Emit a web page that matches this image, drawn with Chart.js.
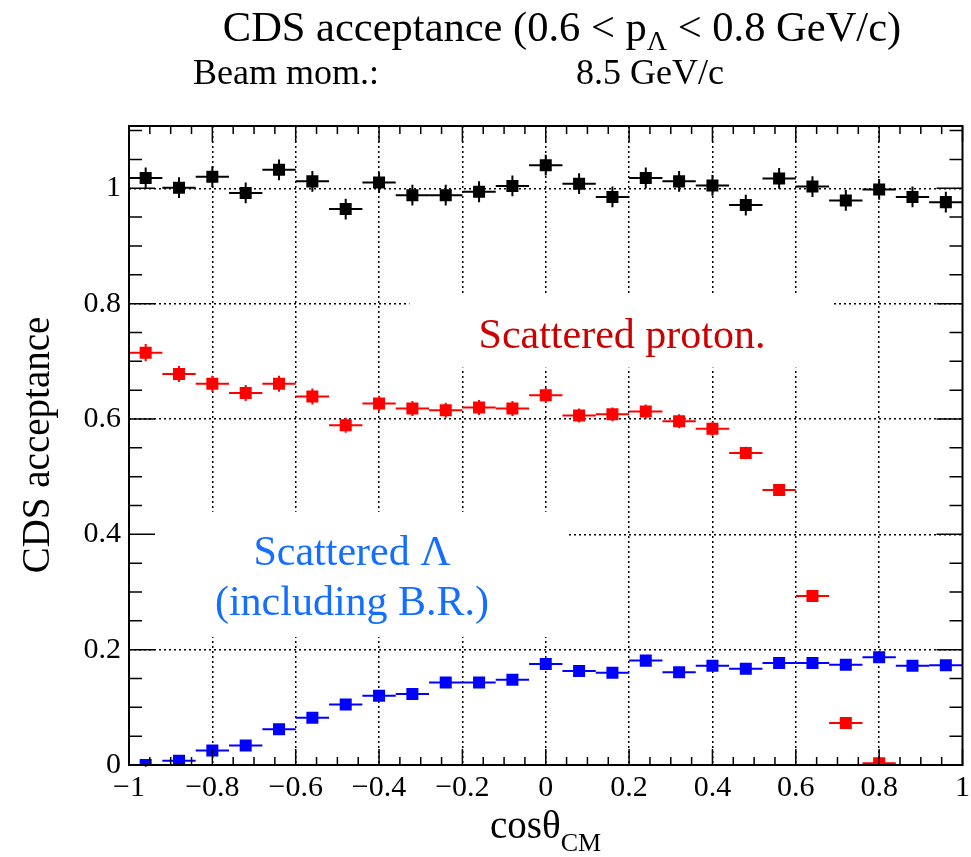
<!DOCTYPE html>
<html>
<head>
<meta charset="utf-8">
<script src="https://cdn.jsdelivr.net/npm/chart.js@4/dist/chart.umd.min.js"></script>
<style>
  body { margin: 0; background: #fff; }
  canvas { display: block; }
</style>
</head>
<body>
<canvas id="acc" width="971" height="857"></canvas>
<script>
// cos(theta_CM) bin centres, bin width 0.08
const cosTheta = [-0.96, -0.88, -0.80, -0.72, -0.64, -0.56, -0.48, -0.40, -0.32, -0.24, -0.16, -0.08,
    0.00, 0.08, 0.16, 0.24, 0.32, 0.40, 0.48, 0.56, 0.64, 0.72, 0.80, 0.88, 0.96]
const halfBin = 0.04

// black: all events
const totalAcc = [1.018, 1.001, 1.020, 0.992, 1.032, 1.012, 0.964, 1.010, 0.988, 0.988, 0.994, 1.004,
    1.040, 1.008, 0.985, 1.018, 1.012, 1.005, 0.971, 1.017, 1.003, 0.979, 0.998, 0.985, 0.976]
const totalErr = [0.018, 0.018, 0.018, 0.018, 0.018, 0.018, 0.018, 0.018, 0.018, 0.018, 0.018, 0.018,
    0.018, 0.018, 0.018, 0.018, 0.018, 0.018, 0.018, 0.018, 0.018, 0.018, 0.018, 0.018, 0.018]

// red: scattered proton
const protonAcc = [0.715, 0.678, 0.661, 0.645, 0.661, 0.639, 0.589, 0.627, 0.618, 0.615, 0.620, 0.618,
    0.641, 0.606, 0.608, 0.613, 0.596, 0.583, 0.541, 0.477, 0.293, 0.073, 0.003, null, null]
const protonErr = [0.015, 0.014, 0.014, 0.014, 0.014, 0.014, 0.013, 0.013, 0.013, 0.013, 0.013, 0.013,
    0.013, 0.012, 0.012, 0.012, 0.012, 0.012, 0.011, 0.009, 0.004, 0.003, 0.002, null, null]

// blue: scattered Lambda (including B.R.)
const lambdaAcc = [0.000, 0.0075, 0.025, 0.034, 0.062, 0.082, 0.105, 0.120, 0.123, 0.143, 0.143, 0.148,
    0.175, 0.163, 0.160, 0.181, 0.161, 0.172, 0.167, 0.177, 0.177, 0.174, 0.187, 0.172, 0.173]
const lambdaErr = [0.003, 0.003, 0.004, 0.004, 0.004, 0.004, 0.004, 0.004, 0.004, 0.004, 0.004, 0.004,
    0.004, 0.004, 0.004, 0.004, 0.004, 0.004, 0.004, 0.004, 0.004, 0.004, 0.004, 0.004, 0.004]

const xTicks = [-1, -0.8, -0.6, -0.4, -0.2, 0, 0.2, 0.4, 0.6, 0.8, 1]
const yTicks = [0, 0.2, 0.4, 0.6, 0.8, 1]

const serif = '"Liberation Serif", "DejaVu Serif", serif'

let toPoints = function(vals, errs){
    let pts = []
    vals.forEach((v, i) => {
        if (v !== null) pts.push({ x: cosTheta[i], y: v, err: errs[i] })
    })
    return pts
}

let makeSet = function(label, vals, errs, color){
    return {
        label: label,
        data: toPoints(vals, errs),
        showLine: false,
        pointStyle: 'rect',
        pointRadius: 8.5,
        pointHoverRadius: 8.5,
        backgroundColor: color,
        borderColor: color,
        borderWidth: 0
    }
}

// white boxes behind the text labels (ROOT pave fill hides the grid)
const boxes = [
    { x0: -0.327, x1: 0.686, y0: 0.689, y1: 0.814 },
    { x0: -1, x1: 0.049, y0: 0.222, y1: 0.439 }
]

const rootPlugin = {
    id: 'rootStyle',
    beforeDatasetsDraw(chart){
        const ctx = chart.ctx
        const xs = chart.scales.x, ys = chart.scales.y
        ctx.save()
        ctx.fillStyle = '#fff'
        boxes.forEach(b => {
            let l = xs.getPixelForValue(b.x0), r = xs.getPixelForValue(b.x1)
            let t = ys.getPixelForValue(b.y1), bt = ys.getPixelForValue(b.y0)
            ctx.fillRect(l, t, r - l, bt - t)
        })

        // error bars
        ctx.lineWidth = 2
        chart.data.datasets.forEach(ds => {
            ctx.strokeStyle = ds.borderColor
            ds.data.forEach(p => {
                let px = xs.getPixelForValue(p.x)
                let py = ys.getPixelForValue(p.y)
                ctx.beginPath()
                ctx.moveTo(xs.getPixelForValue(p.x - halfBin), py)
                ctx.lineTo(xs.getPixelForValue(p.x + halfBin), py)
                ctx.moveTo(px, ys.getPixelForValue(p.y - p.err))
                ctx.lineTo(px, ys.getPixelForValue(p.y + p.err))
                ctx.stroke()
            })
        })

        // labels inside the frame
        ctx.textAlign = 'center'
        ctx.textBaseline = 'alphabetic'
        ctx.font = '42px ' + serif
        ctx.fillStyle = '#cc0000'
        ctx.fillText('Scattered proton.', 622, 348)
        ctx.fillStyle = 'rgb(20,110,255)'
        ctx.fillText('Scattered \u039B', 352, 565)
        ctx.fillText('(including B.R.)', 352, 615)
        ctx.restore()
    },
    afterDraw(chart){
        const ctx = chart.ctx
        const a = chart.chartArea
        const xs = chart.scales.x, ys = chart.scales.y
        ctx.save()
        ctx.strokeStyle = '#000'
        ctx.lineWidth = 1.5

        // inward ticks on all four sides, minor every 0.05
        ctx.beginPath()
        for (let i = 0; i <= 40; i++) {
            let v = -1 + i * 0.05
            let px = xs.getPixelForValue(v)
            let len = (i % 4 === 0) ? 16 : 8
            ctx.moveTo(px, a.bottom); ctx.lineTo(px, a.bottom - len)
            ctx.moveTo(px, a.top); ctx.lineTo(px, a.top + len)
        }
        for (let i = 0; i <= 22; i++) {
            let v = i * 0.05
            let py = ys.getPixelForValue(v)
            let len = (i % 4 === 0) ? 26 : 13
            ctx.moveTo(a.left, py); ctx.lineTo(a.left + len, py)
            ctx.moveTo(a.right, py); ctx.lineTo(a.right - len, py)
        }
        ctx.stroke()

        ctx.lineWidth = 2
        ctx.strokeRect(a.left, a.top, a.right - a.left, a.bottom - a.top)

        // title
        ctx.fillStyle = '#000'
        ctx.textBaseline = 'alphabetic'
        ctx.textAlign = 'left'
        let big = '42.5px ' + serif, small = '28px ' + serif
        let t1 = 'CDS acceptance (0.6 < p', t2 = '\u039B', t3 = ' < 0.8 GeV/c)'
        ctx.font = big
        let w1 = ctx.measureText(t1).width, w3 = ctx.measureText(t3).width
        ctx.font = small
        let w2 = ctx.measureText(t2).width
        let x = 562 - (w1 + w2 + w3) / 2
        ctx.font = big
        ctx.fillText(t1, x, 41)
        ctx.font = small
        ctx.fillText(t2, x + w1, 50)
        ctx.font = big
        ctx.fillText(t3, x + w1 + w2, 41)

        ctx.font = '36px ' + serif
        ctx.fillText('Beam mom.:', 193, 84)
        ctx.fillText('8.5 GeV/c', 576, 84)

        // x axis title
        ctx.font = '39px ' + serif
        ctx.fillText('cos\u03B8', 490, 838)
        let wc = ctx.measureText('cos\u03B8').width
        ctx.font = '26px ' + serif
        ctx.fillText('CM', 490 + wc, 851)

        // y axis title
        ctx.translate(49, 445)
        ctx.rotate(-Math.PI / 2)
        ctx.textAlign = 'center'
        ctx.font = '39px ' + serif
        ctx.fillText('CDS acceptance', 0, 0)
        ctx.restore()
    }
}

let fmt = v => {
    let s = String(Math.round(v * 10) / 10)
    return s.replace('-', '\u2212')
}

new Chart(document.getElementById('acc'), {
    type: 'scatter',
    data: {
        datasets: [
            makeSet('All', totalAcc, totalErr, '#000000'),
            makeSet('Scattered proton', protonAcc, protonErr, '#ff0000'),
            makeSet('Scattered Lambda', lambdaAcc, lambdaErr, '#0000ff')
        ]
    },
    options: {
        responsive: false,
        animation: false,
        layout: { padding: { top: 126, right: 6, left: 0, bottom: 0 } },
        plugins: {
            legend: { display: false },
            tooltip: { enabled: false }
        },
        scales: {
            x: {
                type: 'linear',
                min: -1,
                max: 1,
                afterBuildTicks: s => { s.ticks = xTicks.map(v => ({ value: v })) },
                afterFit: s => { s.height = 92; s.paddingLeft = 0; s.paddingRight = 0 },
                ticks: {
                    color: '#000',
                    padding: 5,
                    maxRotation: 0,
                    autoSkip: false,
                    font: { family: serif, size: 30 },
                    callback: v => fmt(v)
                },
                grid: {
                    drawTicks: false,
                    lineWidth: 1.5,
                    color: c => (c.tick && (c.tick.value <= -1 || c.tick.value >= 1)) ? 'rgba(0,0,0,0)' : '#000'
                },
                border: { display: false, dash: [2, 3] }
            },
            y: {
                type: 'linear',
                min: 0,
                max: 1.108,
                afterBuildTicks: s => { s.ticks = yTicks.map(v => ({ value: v })) },
                afterFit: s => { s.width = 129; s.paddingTop = 0; s.paddingBottom = 0 },
                ticks: {
                    color: '#000',
                    padding: 8,
                    autoSkip: false,
                    font: { family: serif, size: 30 },
                    callback: v => fmt(v)
                },
                grid: {
                    drawTicks: false,
                    lineWidth: 1.5,
                    color: c => (c.tick && c.tick.value <= 0) ? 'rgba(0,0,0,0)' : '#000'
                },
                border: { display: false, dash: [2, 3] }
            }
        }
    },
    plugins: [rootPlugin]
})
</script>
</body>
</html>
